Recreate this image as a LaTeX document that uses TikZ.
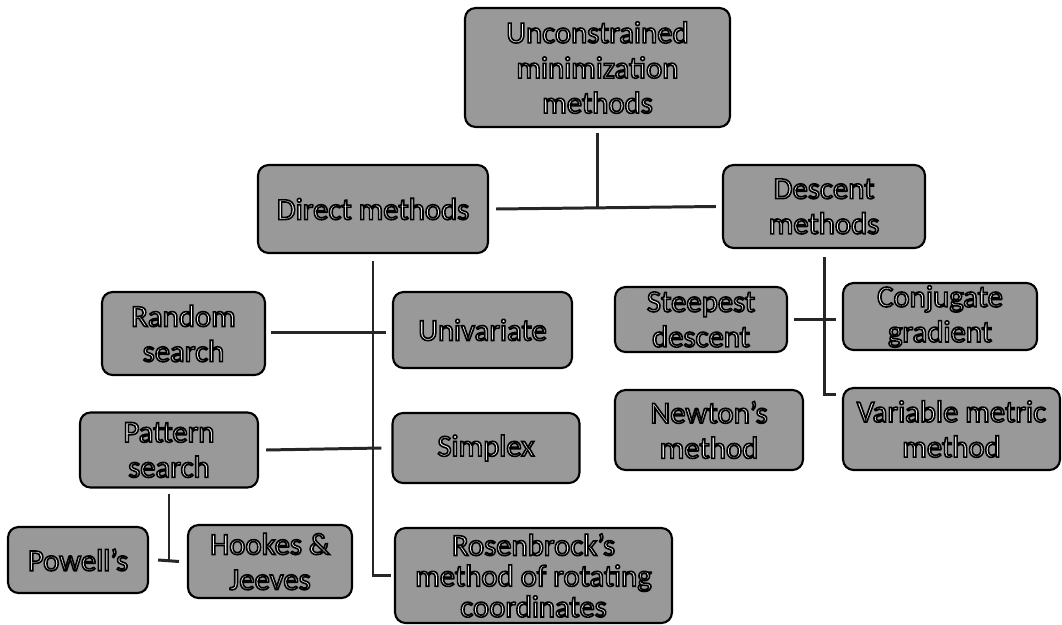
\documentclass[tikz,border=0pt]{standalone}
\usepackage{fontspec}
\setmainfont{Carlito}
\usetikzlibrary{calc}
% white letters with a black rim (fill and stroke)
\newcommand{\ol}[1]{\special{pdf:code 2 Tr 0.9 w 0 G}#1\special{pdf:code 0 Tr}}

\begin{document}
\begin{tikzpicture}[x=0.02cm, y=-0.02cm,
    box/.style={draw=black, line width=1.2pt, rounded corners=6pt, fill=black!40,
        text=white, align=center, inner sep=0pt, font=\fontsize{17.5}{20}\selectfont},
    link/.style={line width=1.7pt, black!85}]
\useasboundingbox (0,0) rectangle (1062,625);
% Draw boxes
\node[box, minimum width=5.3cm, minimum height=2.38cm] (top) at (597.5,67.5) {\ol{Unconstrained}\\\ol{minimization}\\\ol{methods}};
\node[box, minimum width=4.6cm, minimum height=1.76cm] (direct) at (373,209) {\ol{Direct methods}};
\node[box, minimum width=4.04cm, minimum height=1.66cm] (descent) at (824,206.5) {\ol{Descent}\\\ol{methods}};
\node[box, minimum width=3.26cm, minimum height=1.66cm] (random) at (183.5,333.5) {\ol{Random}\\\ol{search}};
\node[box, minimum width=3.58cm, minimum height=1.52cm] (univar) at (482.5,330) {\ol{Univariate}};
\node[box, minimum width=3.56cm, minimum height=1.5cm] (pattern) at (169,450) {\ol{Pattern}\\\ol{search}};
\node[box, minimum width=3.74cm, minimum height=1.4cm] (simplex) at (486,448) {\ol{Simplex}};
\node[box, minimum width=2.8cm, minimum height=1.32cm] (powell) at (78,560) {\ol{Powell's}};
\node[box, minimum width=3.28cm, minimum height=1.46cm] (hookes) at (270,561.5) {\ol{Hookes \&}\\\ol{Jeeves}};
\node[box, minimum width=5.54cm, minimum height=1.9cm, font=\fontsize{17.5}{17.5}\selectfont] (rosen) at (533.5,575.5) {\ol{Rosenbrock's}\\\ol{method of rotating}\\\ol{coordinates}};
\node[box, minimum width=3.44cm, minimum height=1.3cm] (steep) at (701,319.5) {\ol{Steepest}\\\ol{descent}};
\node[box, minimum width=3.88cm, minimum height=1.34cm] (conj) at (940,316.5) {\ol{Conjugate}\\\ol{gradient}};
\node[box, minimum width=3.76cm, minimum height=1.6cm] (newton) at (709,430) {\ol{Newton's}\\\ol{method}};
\node[box, minimum width=4.34cm, minimum height=1.64cm] (variable) at (951.5,429) {\ol{Variable metric}\\\ol{method}};
% Draw connectors
\draw[link] ($(top.south)+(0,5)$) -- (top.south |- direct.east);
\draw[link] ($(direct.east)+(7,0)$) -- ($(descent.west)+(-6,0)$);
\draw[link] ($(direct.south)+(0,7)$) |- ($(rosen.west)+(-3,0)$);
\draw[link] ($(random.east)+(5,-1)$) -- ($(random.east -| univar.west)+(-6,-1)$);
\draw[link] ($(pattern.east)+(7,0)$) -- ($(simplex.west)+(-10,0)$);
\draw[link] ($(pattern.south)+(0,5)$) -- (pattern.south |- powell.east);
\draw[link] ($(powell.east)+(9,0)$) -- ($(hookes.west)+(-8,0)$);
\draw[link] ($(descent.south)+(0,8)$) -- ($(descent.south |- variable.north)+(0,8)$)
    -- ($(variable.north west)+(-6,8)$);
\draw[link] ($(steep.east)+(6,0)$) -- ($(steep.east -| conj.west)+(-6,0)$);
\end{tikzpicture}
\end{document}
